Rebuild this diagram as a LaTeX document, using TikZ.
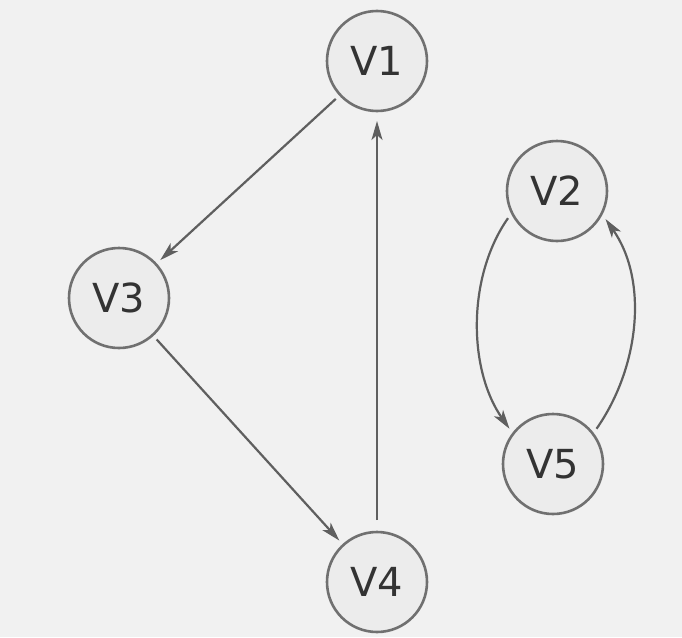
\documentclass[tikz,border=0pt]{standalone}
\usepackage{fontspec}
\setmainfont{DejaVu Sans}
\usetikzlibrary{arrows.meta}
\definecolor{bgc}{HTML}{F1F1F1}
\definecolor{nodefill}{HTML}{ECECEC}
\definecolor{nodeline}{HTML}{707070}
\definecolor{edgec}{HTML}{5F5F5F}
\definecolor{textc}{HTML}{333333}
\begin{document}
\begin{tikzpicture}[x=1pt,y=1pt,
  vertex/.style={circle, draw=nodeline, fill=nodefill, line width=2.6pt,
    minimum size=100pt, inner sep=0pt, outer sep=6pt, text=textc,
    font=\fontsize{40}{42}\selectfont},
  edge/.style={draw=edgec, line width=2.2pt, -{Stealth[length=19pt,width=11pt,inset=5pt]}}
]
\fill[bgc] (0,0) rectangle (682,-637);
\useasboundingbox (0,0) rectangle (682,-637);
\node[vertex] (V1) at (377,-61) {V1};
\node[vertex] (V3) at (119,-298) {V3};
\node[vertex] (V4) at (377,-582) {V4};
\node[vertex] (V2) at (557,-191) {V2};
\node[vertex] (V5) at (553,-464) {V5};
\draw[edge] (V1) -- (V3);
\draw[edge] (V3) -- (V4);
\draw[edge, shorten <=6pt, shorten >=4pt] (V4) -- (V1);
\draw[edge] (V2.209) .. controls +(235:72) and +(125:72) .. (V5.141);
\draw[edge] (V5.39) .. controls +(55:75) and +(-55:75) .. (V2.330);
\end{tikzpicture}
\end{document}
